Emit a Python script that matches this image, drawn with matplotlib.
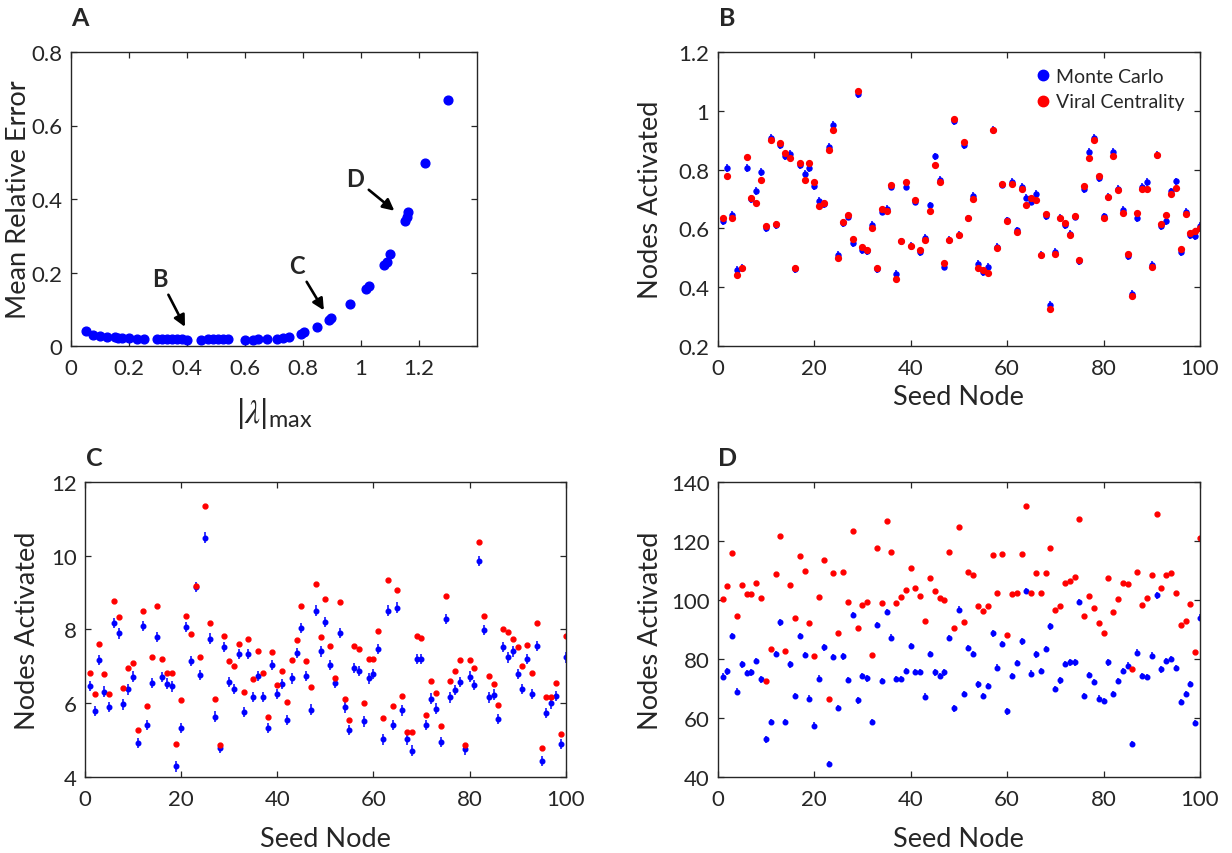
import matplotlib
matplotlib.use('Agg')
import matplotlib.pyplot as plt
from matplotlib.lines import Line2D

plt.rcParams['font.family'] = ['Lato', 'DejaVu Sans']
plt.rcParams['mathtext.fontset'] = 'custom'
plt.rcParams['mathtext.rm'] = 'Lato'
plt.rcParams['mathtext.it'] = 'STIXGeneral:italic'

TXT = '#262626'

# panel A: error vs largest eigenvalue
lam_max = [0.052, 0.077, 0.100, 0.125, 0.150, 0.163, 0.177, 0.200, 0.226, 0.250,
           0.295, 0.313, 0.330, 0.347, 0.364, 0.382, 0.401, 0.448, 0.474, 0.490,
           0.508, 0.525, 0.542, 0.600, 0.626, 0.644, 0.677, 0.711, 0.730, 0.750,
           0.793, 0.803, 0.849, 0.891, 0.897, 0.961, 1.016, 1.028, 1.080, 1.088,
           1.100, 1.152, 1.157, 1.163, 1.220, 1.299]
mean_rel_err = [0.040, 0.031, 0.027, 0.024, 0.024, 0.022, 0.021, 0.021, 0.020, 0.020,
                0.019, 0.019, 0.019, 0.019, 0.019, 0.019, 0.017, 0.017, 0.018, 0.018,
                0.018, 0.018, 0.018, 0.017, 0.017, 0.018, 0.019, 0.020, 0.021, 0.024,
                0.034, 0.038, 0.051, 0.070, 0.075, 0.115, 0.154, 0.164, 0.220, 0.229,
                0.249, 0.340, 0.352, 0.365, 0.498, 0.669]

seed_nodes = list(range(1, 101))

# panel B
b_mc = [0.626, 0.805, 0.645, 0.459, 0.466, 0.806, 0.700, 0.727, 0.792, 0.601,
        0.908, 0.612, 0.883, 0.847, 0.853, 0.461, 0.816, 0.785, 0.806, 0.745,
        0.693, 0.683, 0.877, 0.953, 0.509, 0.619, 0.640, 0.550, 1.058, 0.527,
        0.524, 0.611, 0.461, 0.657, 0.666, 0.742, 0.445, 0.556, 0.742, 0.540,
        0.691, 0.520, 0.568, 0.678, 0.845, 0.765, 0.470, 0.562, 0.964, 0.577,
        0.882, 0.634, 0.710, 0.478, 0.451, 0.470, 0.935, 0.536, 0.749, 0.627,
        0.759, 0.593, 0.740, 0.705, 0.691, 0.716, 0.511, 0.643, 0.339, 0.519,
        0.637, 0.611, 0.581, 0.640, 0.489, 0.734, 0.861, 0.907, 0.772, 0.641,
        0.707, 0.859, 0.734, 0.662, 0.505, 0.378, 0.635, 0.740, 0.757, 0.475,
        0.850, 0.609, 0.624, 0.726, 0.760, 0.520, 0.655, 0.578, 0.574, 0.609]
b_vc = [0.637, 0.777, 0.634, 0.443, 0.464, 0.842, 0.705, 0.688, 0.765, 0.609,
        0.902, 0.614, 0.889, 0.855, 0.840, 0.464, 0.823, 0.765, 0.823, 0.757,
        0.676, 0.685, 0.868, 0.936, 0.500, 0.622, 0.645, 0.564, 1.066, 0.537,
        0.526, 0.602, 0.465, 0.665, 0.658, 0.749, 0.427, 0.556, 0.758, 0.541,
        0.698, 0.526, 0.560, 0.658, 0.815, 0.757, 0.481, 0.560, 0.973, 0.578,
        0.895, 0.634, 0.699, 0.464, 0.459, 0.450, 0.933, 0.534, 0.751, 0.625,
        0.750, 0.589, 0.735, 0.681, 0.705, 0.695, 0.511, 0.648, 0.327, 0.514,
        0.637, 0.618, 0.576, 0.643, 0.492, 0.743, 0.840, 0.899, 0.777, 0.634,
        0.706, 0.847, 0.730, 0.651, 0.512, 0.370, 0.652, 0.735, 0.735, 0.469,
        0.849, 0.616, 0.645, 0.718, 0.739, 0.530, 0.650, 0.584, 0.590, 0.601]

# panel C
c_mc = [6.46, 5.78, 7.16, 6.31, 5.90, 8.17, 7.89, 5.96, 6.37, 6.72,
        4.92, 8.10, 5.41, 6.55, 7.79, 6.71, 6.53, 6.45, 4.28, 5.32,
        8.06, 7.14, 9.15, 6.76, 10.49, 7.75, 5.63, 4.77, 7.53, 6.57,
        6.38, 7.34, 5.75, 7.34, 6.17, 6.73, 6.17, 5.32, 7.04, 6.25,
        6.51, 5.54, 6.67, 7.36, 8.03, 6.73, 5.82, 8.51, 7.40, 8.20,
        7.04, 6.54, 7.91, 5.88, 5.26, 6.95, 6.87, 5.50, 6.67, 6.79,
        7.46, 5.01, 8.51, 5.41, 8.59, 5.80, 5.01, 4.71, 7.19, 7.19,
        5.40, 6.12, 5.85, 4.95, 8.28, 6.15, 6.36, 6.57, 4.74, 6.72,
        6.49, 9.85, 7.99, 6.15, 6.23, 5.56, 7.52, 7.24, 7.40, 6.78,
        6.38, 7.19, 6.25, 7.55, 4.43, 5.73, 5.99, 6.19, 4.88, 7.24]
c_vc = [6.81, 6.25, 7.59, 6.78, 6.24, 8.77, 8.33, 6.40, 6.96, 7.10,
        5.26, 8.50, 5.93, 7.26, 8.63, 7.20, 6.81, 6.82, 4.88, 6.07,
        8.37, 7.88, 9.19, 7.24, 11.34, 8.18, 6.11, 4.86, 7.82, 7.14,
        7.00, 7.60, 6.29, 7.75, 6.65, 7.42, 6.81, 5.62, 7.39, 6.49,
        6.86, 6.03, 7.18, 7.70, 8.63, 7.14, 6.43, 9.22, 7.80, 8.83,
        7.54, 6.67, 8.73, 6.11, 5.55, 7.54, 7.46, 6.01, 7.20, 7.20,
        7.96, 5.60, 9.33, 5.91, 9.07, 6.18, 5.22, 5.22, 7.82, 7.77,
        5.68, 6.60, 6.26, 5.37, 8.90, 6.60, 6.87, 7.16, 4.86, 7.16,
        6.96, 10.38, 8.35, 6.73, 6.51, 5.95, 8.02, 7.92, 7.73, 7.52,
        7.00, 7.57, 6.82, 8.18, 4.77, 6.15, 6.15, 6.55, 5.16, 7.82]

# panel D
d_mc = [74.0, 75.7, 87.8, 68.9, 78.1, 75.2, 75.4, 79.2, 73.0, 52.7,
        58.5, 81.7, 92.4, 58.5, 78.1, 67.3, 87.8, 81.3, 66.5, 57.3,
        73.3, 83.9, 44.3, 80.7, 63.3, 80.8, 72.8, 94.8, 65.9, 74.1,
        73.4, 58.5, 91.5, 72.4, 95.8, 87.2, 73.1, 73.2, 75.8, 84.4,
        75.6, 75.6, 67.2, 81.7, 75.4, 74.1, 75.4, 87.1, 63.2, 96.7,
        68.1, 83.6, 81.6, 71.3, 67.4, 70.7, 88.6, 77.0, 85.0, 62.2,
        74.1, 78.5, 85.9, 103.0, 75.0, 81.5, 75.9, 83.3, 91.0, 69.7,
        72.7, 78.3, 78.8, 78.8, 99.2, 67.4, 74.5, 72.2, 66.5, 65.7,
        78.8, 68.0, 72.4, 75.9, 77.7, 51.1, 82.1, 74.1, 73.9, 81.1,
        101.5, 76.4, 79.2, 79.9, 76.8, 65.4, 68.0, 71.5, 58.3, 94.0]
d_vc = [100.3, 104.6, 115.9, 94.5, 105.1, 102.1, 102.1, 105.8, 100.7, 72.5,
        83.3, 108.9, 121.7, 82.6, 105.0, 93.9, 114.9, 109.8, 92.2, 81.1,
        100.9, 113.6, 66.4, 109.1, 88.7, 109.4, 99.3, 123.4, 90.4, 98.4,
        99.4, 81.3, 117.6, 99.0, 126.8, 116.4, 98.9, 100.9, 103.4, 110.9,
        103.9, 101.4, 92.7, 107.3, 103.1, 100.5, 99.9, 116.4, 90.5, 124.8,
        92.5, 109.3, 108.5, 97.8, 96.3, 97.8, 115.1, 102.5, 115.6, 88.0,
        101.9, 102.2, 115.6, 131.7, 102.4, 109.1, 102.5, 109.2, 117.7, 96.6,
        97.9, 105.8, 106.3, 107.6, 127.3, 94.4, 101.3, 97.1, 92.2, 88.9,
        107.5, 95.9, 100.4, 105.6, 105.3, 76.4, 109.3, 98.4, 100.6, 108.6,
        129.2, 104.0, 108.6, 109.0, 102.5, 91.6, 92.9, 98.7, 82.3, 121.0]

# monte carlo error bar half widths
err_b = 0.013
err_c = 0.14
err_d = 1.1


def style_axes(ax):
    for sp in ax.spines.values():
        sp.set_color(TXT)
        sp.set_linewidth(1.0)
    ax.tick_params(direction='in', top=True, right=True, length=4, width=0.9,
                   color=TXT, labelcolor=TXT, labelsize=16)
    ax.tick_params(axis='x', pad=9)
    ax.tick_params(axis='y', pad=6)


fig = plt.figure(figsize=(12.32, 8.54), dpi=100)
W, H = 1232, 854


def add_ax(l, t, r, b):
    return fig.add_axes([l / W, 1 - b / H, (r - l) / W, (b - t) / H])


axA = add_ax(71, 53, 477, 347)
axB = add_ax(717.7, 53, 1200, 347)
axC = add_ax(85, 483, 565.7, 777.7)
axD = add_ax(717.7, 483, 1200, 777.7)

# ---- A
axA.plot(lam_max, mean_rel_err, 'o', color='b', ms=6.3)
axA.set_xlim(0, 1.4)
axA.set_ylim(0, 0.8)
axA.set_xticks([0, 0.2, 0.4, 0.6, 0.8, 1.0, 1.2])
axA.set_xticklabels(['0', '0.2', '0.4', '0.6', '0.8', '1', '1.2'])
axA.set_yticks([0, 0.2, 0.4, 0.6, 0.8])
axA.set_yticklabels(['0', '0.2', '0.4', '0.6', '0.8'])
style_axes(axA)
axA.set_ylabel('Mean Relative Error', fontsize=19.5, color=TXT, va='center')
axA.yaxis.set_label_coords((19 - 71) / 406, 0.5)
axA.set_xlabel(r'$|\lambda|_{\mathrm{max}}$', fontsize=24, color=TXT)
axA.xaxis.set_label_coords(0.5, (347 - 396) / 294)

arrow = dict(arrowstyle='-|>', color='k', lw=1.9, mutation_scale=17, shrinkA=2, shrinkB=0)
for lab, xt, xy in [('B', (0.306, 0.185), (0.393, 0.052)),
                    ('C', (0.778, 0.220), (0.872, 0.097)),
                    ('D', (0.979, 0.456), (1.115, 0.368))]:
    axA.annotate(lab, xy=xy, xytext=xt, fontsize=17, fontweight='bold', color=TXT,
                 ha='center', va='center', arrowprops=arrow)

# ---- B, C, D
panels = [(axB, b_mc, b_vc, err_b, (0.2, 1.2), [0.2, 0.4, 0.6, 0.8, 1.0, 1.2],
           ['0.2', '0.4', '0.6', '0.8', '1', '1.2'], 3.6, 4.2, 651, 347 - 385),
          (axC, c_mc, c_vc, err_c, (4, 12), [4, 6, 8, 10, 12],
           ['4', '6', '8', '10', '12'], 3.3, 3.5, 27.5, 777.7 - 827),
          (axD, d_mc, d_vc, err_d, (40, 140), [40, 60, 80, 100, 120, 140],
           ['40', '60', '80', '100', '120', '140'], 3.3, 3.5, 651, 777.7 - 827)]

for ax, mc, vc, err, ylim, yt, ytl, ms_b, ms_r, ylab_x, xlab_dy in panels:
    ax.errorbar(seed_nodes, mc, yerr=err, fmt='none', ecolor='b', elinewidth=1.1, capsize=0)
    ax.plot(seed_nodes, mc, 'o', color='b', ms=ms_b)
    ax.plot(seed_nodes, vc, 'o', color='r', ms=ms_r)
    ax.set_xlim(0, 100)
    ax.set_ylim(*ylim)
    ax.set_xticks([0, 20, 40, 60, 80, 100])
    ax.set_yticks(yt)
    ax.set_yticklabels(ytl)
    style_axes(ax)
    bb = ax.get_position()
    ax.set_ylabel('Nodes Activated', fontsize=19.5, color=TXT, va='center')
    ax.yaxis.set_label_coords((ylab_x - bb.x0 * W) / (bb.width * W), 0.5)
    ax.set_xlabel('Seed Node', fontsize=19.5, color=TXT)
    ax.xaxis.set_label_coords(0.5, xlab_dy / (bb.height * H))

handles = [Line2D([], [], marker='o', ls='none', color='b', ms=7.5),
           Line2D([], [], marker='o', ls='none', color='r', ms=7.5)]
axB.legend(handles, ['Monte Carlo', 'Viral Centrality'], loc='upper right',
           frameon=False, fontsize=14, handlelength=0.6, handletextpad=0.35,
           labelspacing=0.45, borderaxespad=0.4, labelcolor=TXT)

for lab, x, y in [('A', 80, 19), ('B', 727, 19), ('C', 94, 458), ('D', 728, 458)]:
    fig.text(x / W, 1 - y / H, lab, fontsize=18, fontweight='bold', color=TXT,
             ha='center', va='center')

fig.savefig('out.png', dpi=100)
